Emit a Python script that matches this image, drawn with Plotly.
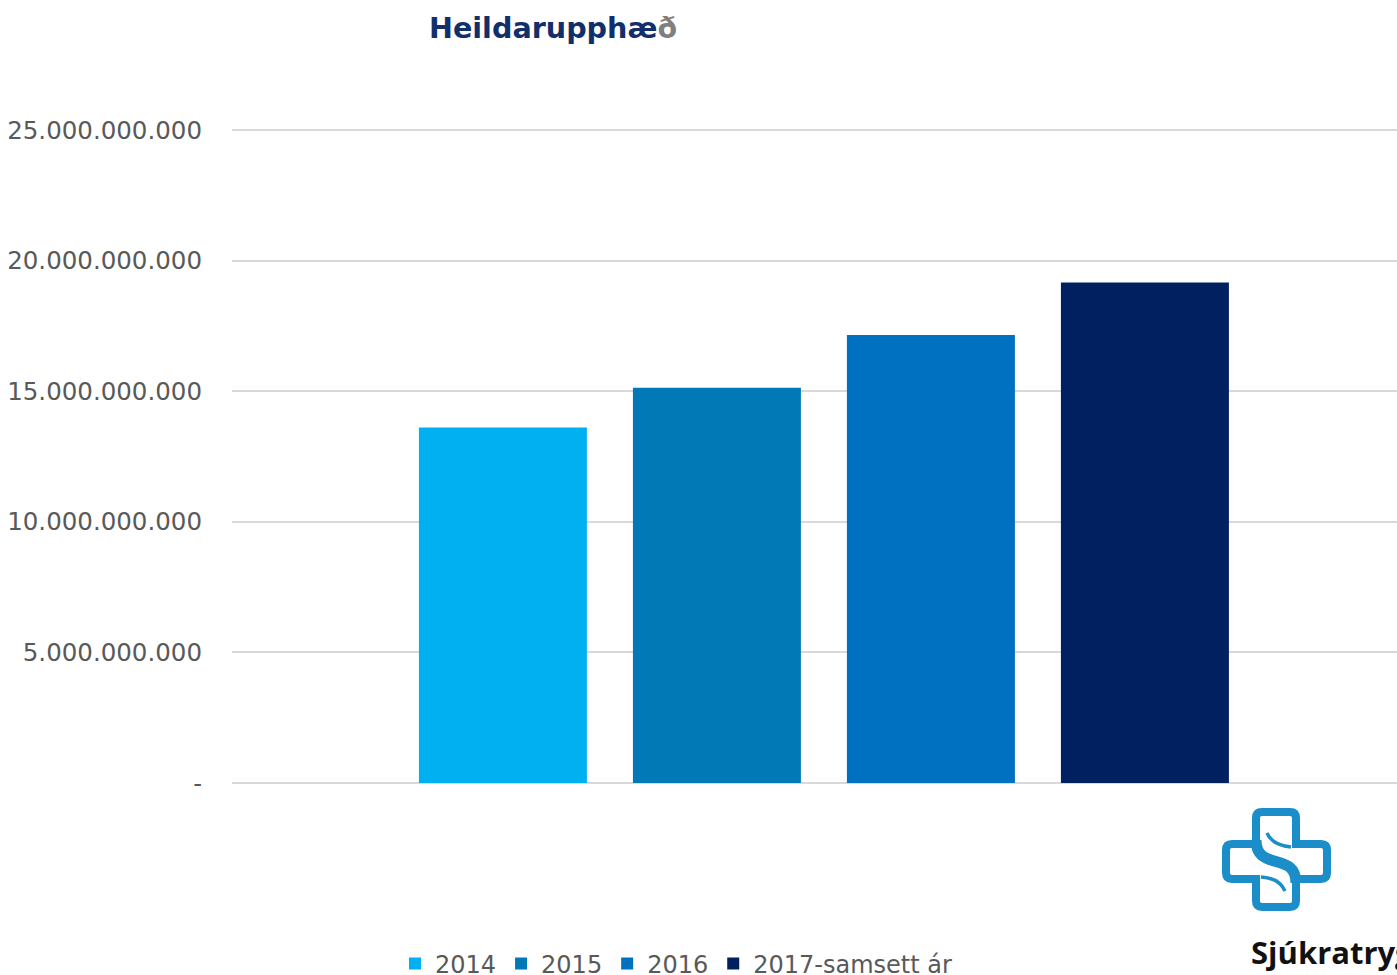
import plotly.graph_objects as go

# ---- data ----
series_names = ["2014", "2015", "2016", "2017-samsett ár"]
values = [13.62e9, 15.14e9, 17.16e9, 19.17e9]
colors = ["#00B0F0", "#0079B6", "#0070C0", "#002060"]
tick_vals = [0, 5e9, 10e9, 15e9, 20e9, 25e9]
tick_text = ["-", "5.000.000.000", "10.000.000.000", "15.000.000.000",
             "20.000.000.000", "25.000.000.000"]
y_max = 25.05e9

W, H = 1397, 975
PL, PR, PB = 232, 1397, 783  # plot area in reference pixels
PT = PB - (PB - 130) * y_max / 25e9


def px(x):
    return (x - PL) / (PR - PL)


def py(y):
    return (PB - y) / (PB - PT)


fig = go.Figure()
for name, v, c in zip(series_names, values, colors):
    fig.add_trace(go.Bar(x=[name], y=[v], name=name, marker_color=c,
                         marker_line_width=0, width=0.785))

fig.update_layout(
    width=W, height=H,
    margin=dict(l=PL, r=W - PR, t=PT, b=H - PB, pad=0),
    paper_bgcolor="white", plot_bgcolor="white",
    barmode="overlay",
    showlegend=True,
    legend=dict(orientation="h", x=px(395), xanchor="left",
                yref="container", y=(975 - 964) / H, yanchor="middle",
                font=dict(family="Verdana, DejaVu Sans", size=24, color="#595959"),
                bgcolor="rgba(0,0,0,0)", itemclick=False, tracegroupgap=0),
    font=dict(family="Verdana, DejaVu Sans", color="#595959"),
)
fig.update_xaxes(type="category", categoryorder="array", categoryarray=series_names,
                 range=[-1.266, 4.178], showticklabels=False, showgrid=False,
                 zeroline=False, showline=False, ticks="")
fig.update_yaxes(range=[0, y_max], tickvals=tick_vals, ticktext=tick_text,
                 showgrid=True, gridcolor="#D9D9D9", gridwidth=1.5,
                 zeroline=True, zerolinecolor="#D9D9D9", zerolinewidth=1.5,
                 showline=False, ticks="", ticklabelstandoff=29,
                 tickfont=dict(family="Verdana, DejaVu Sans", size=24.5, color="#595959"))

# title
fig.add_annotation(xref="paper", yref="paper", x=px(427), y=py(28), xanchor="left",
                   yanchor="middle", showarrow=False,
                   text="<b>Heildarupphæ<span style='color:#7F7F7F'>ð</span></b>",
                   font=dict(family="Verdana, DejaVu Sans", size=28.6, color="#112F6B"))

# logo (decoration)
def P(x, y):
    return f"{px(x):.5f},{py(y):.5f}"

blue = "#1B8DC8"
outline = ("M " + P(1256, 844) + " L " + P(1256, 818) + " Q " + P(1256, 812) + " " + P(1262, 812)
           + " L " + P(1290, 812) + " Q " + P(1296, 812) + " " + P(1296, 818)
           + " L " + P(1296, 844) + " L " + P(1321, 844) + " Q " + P(1327, 844) + " " + P(1327, 850)
           + " L " + P(1327, 873) + " Q " + P(1327, 879) + " " + P(1321, 879)
           + " L " + P(1296, 879) + " L " + P(1296, 901) + " Q " + P(1296, 907) + " " + P(1290, 907)
           + " L " + P(1262, 907) + " Q " + P(1256, 907) + " " + P(1256, 901)
           + " L " + P(1256, 879) + " L " + P(1232, 879) + " Q " + P(1226, 879) + " " + P(1226, 873)
           + " L " + P(1226, 850) + " Q " + P(1226, 844) + " " + P(1232, 844) + " Z")
fig.add_shape(type="path", xref="paper", yref="paper", path=outline,
              line=dict(color=blue, width=8), fillcolor="rgba(0,0,0,0)", layer="above")
s_curve = "M " + P(1256, 840) + " C " + P(1256, 872) + " " + P(1296, 851) + " " + P(1296, 883)
fig.add_shape(type="path", xref="paper", yref="paper", path=s_curve,
              line=dict(color=blue, width=11), layer="above")
tail1 = "M " + P(1267, 833) + " Q " + P(1272, 845) + " " + P(1291, 847)
tail2 = "M " + P(1261, 877) + " Q " + P(1279, 878) + " " + P(1285, 891)
for t in (tail1, tail2):
    fig.add_shape(type="path", xref="paper", yref="paper", path=t,
                  line=dict(color=blue, width=3.5), layer="above")

fig.add_annotation(xref="paper", yref="paper", x=px(1249), y=py(952), xanchor="left",
                   yanchor="middle", showarrow=False,
                   text="<b>Sjúkratryggingar Íslands</b>",
                   font=dict(family="Open Sans, DejaVu Sans", size=31, color="#111111"))

fig.write_html(
    "out.html",
    config={"displayModeBar": False},
    post_script=("document.body.style.margin='0';"
                 "document.body.style.overflow='hidden';"
                 "document.documentElement.style.overflow='hidden';"),
)
